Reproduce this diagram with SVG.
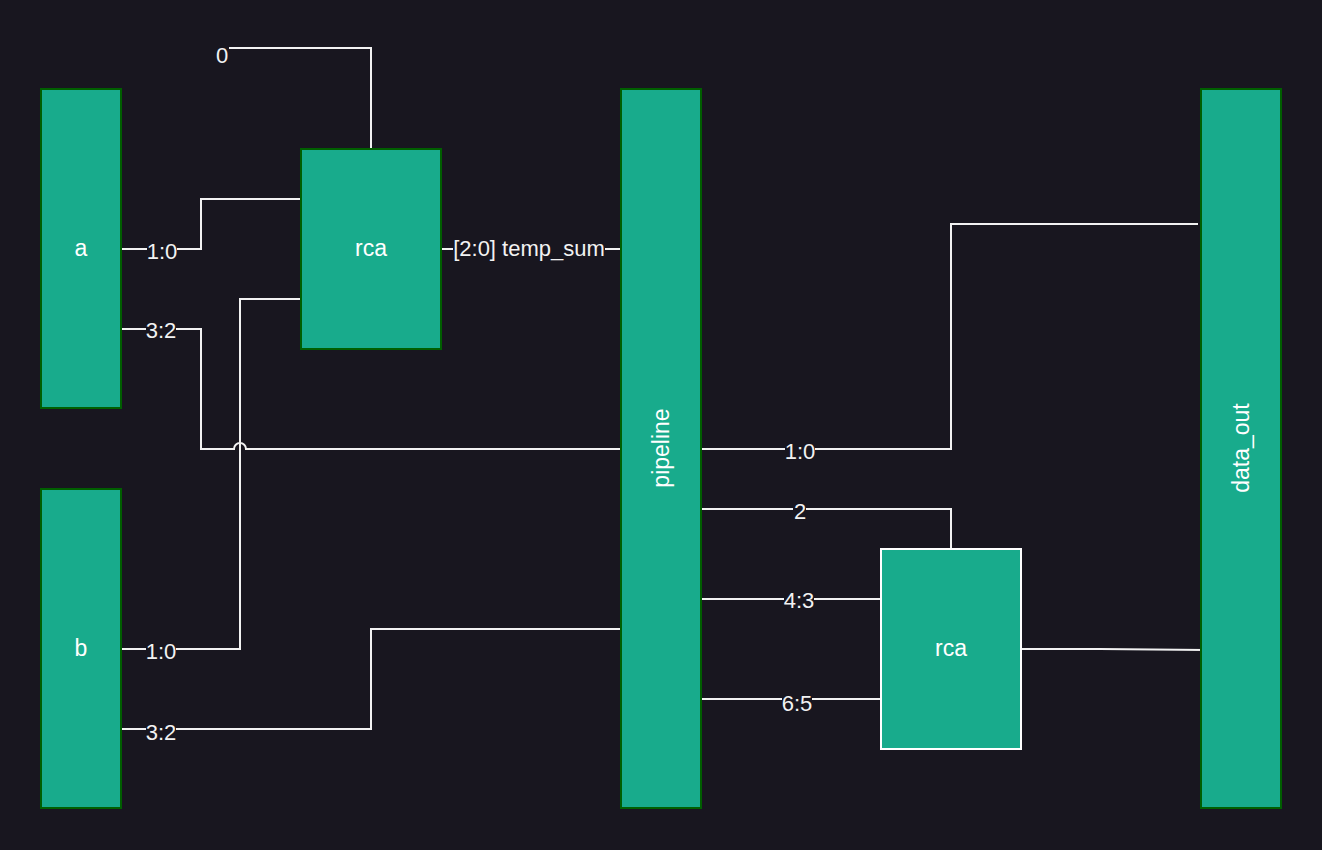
<svg xmlns="http://www.w3.org/2000/svg" width="1322" height="850" viewBox="0 0 1322 850">
<style>
.node{fill:#18ab8c;stroke:#005f00;stroke-width:2}
.node2{fill:#18ab8c;stroke:#ffffff;stroke-width:2}
.nt{font-family:"Liberation Sans",Arial,sans-serif;font-size:23px;fill:#ffffff;text-anchor:middle;dominant-baseline:central}
.w{fill:none;stroke:#f2f2f2;stroke-width:2}
.lb{font-family:"Liberation Sans",Arial,sans-serif;font-size:22px;fill:#f2f2f2;text-anchor:middle;dominant-baseline:central}
.bg{fill:#18161f}
</style>
<rect width="1322" height="850" fill="#18161f"/>
<g id="connectors">
<path class="w" d="M229,48 H371 V149"/>
<path class="w" d="M121,249 H201 V199 H301"/>
<path class="w" d="M121,329 H201 V449 H234 A6,6 0 0 1 246,449 H621"/>
<path class="w" d="M121,649 H240 V299 H301"/>
<path class="w" d="M121,729 H371 V629 H621"/>
<path class="w" d="M441,249 H621"/>
<path class="w" d="M701,449 H951 V224 H1198"/>
<path class="w" d="M701,509 H951 V549"/>
<path class="w" d="M701,599 H881"/>
<path class="w" d="M701,699 H881"/>
<path class="w" d="M1021,649 H1100 L1205,650"/>
<rect class="bg" x="147" y="240" width="30" height="20"/>
<text class="lb" x="162" y="251">1:0</text>
<rect class="bg" x="146" y="320" width="30" height="20"/>
<text class="lb" x="161" y="330">3:2</text>
<rect class="bg" x="146" y="640" width="30" height="20"/>
<text class="lb" x="161" y="651">1:0</text>
<rect class="bg" x="146" y="720" width="30" height="20"/>
<text class="lb" x="161" y="732">3:2</text>
<text class="lb" x="222" y="55">0</text>
<rect class="bg" x="453" y="238" width="152" height="22"/>
<text class="lb" x="529" y="248">[2:0] temp_sum</text>
<rect class="bg" x="785" y="440" width="30" height="20"/>
<text class="lb" x="800" y="451">1:0</text>
<rect class="bg" x="793" y="500" width="13" height="20"/>
<text class="lb" x="800" y="511">2</text>
<rect class="bg" x="784" y="590" width="30" height="20"/>
<text class="lb" x="799" y="600">4:3</text>
<rect class="bg" x="782" y="690" width="30" height="20"/>
<text class="lb" x="797" y="703">6:5</text>
</g>
<g id="node-a"><rect class="node" x="41" y="89" width="80" height="319"/><text class="nt" x="81" y="248">a</text></g>
<g id="node-b"><rect class="node" x="41" y="489" width="80" height="319"/><text class="nt" x="81" y="648">b</text></g>
<g id="node-rca1"><rect class="node" x="301" y="149" width="140" height="200"/><text class="nt" x="371" y="248">rca</text></g>
<g id="node-pipeline"><rect class="node" x="621" y="89" width="80" height="719"/><text class="nt" x="661" y="448" transform="rotate(-90 661 448)">pipeline</text></g>
<g id="node-data_out"><rect class="node" x="1201" y="89" width="80" height="719"/><text class="nt" x="1241" y="448" transform="rotate(-90 1241 448)">data_out</text></g>
<g id="node-rca2"><rect class="node2" x="881" y="549" width="140" height="200"/><text class="nt" x="951" y="648">rca</text></g>
</svg>
